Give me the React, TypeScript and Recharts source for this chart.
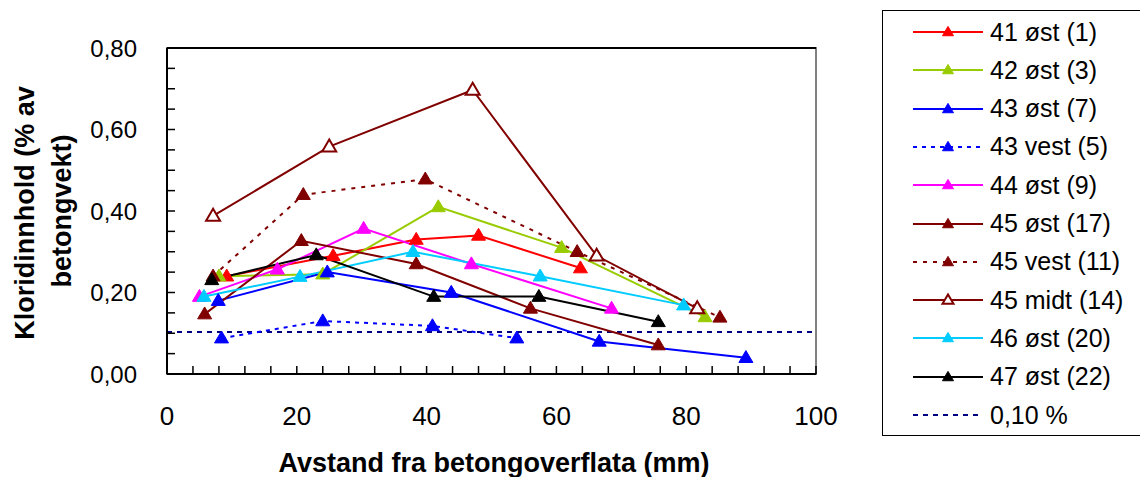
import { LineChart, Line, XAxis, YAxis, ReferenceLine, ReferenceArea, Label } from 'recharts';

type Pt = { x: number; y: number };

// avstand (mm) / kloridinnhold (% av betongvekt)
const ost41: Pt[] = [{ x: 9.2, y: 0.24 }, { x: 25.6, y: 0.29 }, { x: 38.4, y: 0.33 }, { x: 48.0, y: 0.34 }, { x: 63.7, y: 0.26 }];
const ost42: Pt[] = [{ x: 8.0, y: 0.24 }, { x: 24.0, y: 0.245 }, { x: 41.8, y: 0.41 }, { x: 60.8, y: 0.31 }, { x: 82.9, y: 0.14 }];
const ost43: Pt[] = [{ x: 7.9, y: 0.18 }, { x: 24.7, y: 0.25 }, { x: 43.8, y: 0.2 }, { x: 66.6, y: 0.08 }, { x: 89.2, y: 0.04 }];
const vest43: Pt[] = [{ x: 8.4, y: 0.088 }, { x: 24.0, y: 0.13 }, { x: 40.9, y: 0.118 }, { x: 53.9, y: 0.088 }];
const ost44: Pt[] = [{ x: 5.0, y: 0.19 }, { x: 17.0, y: 0.257 }, { x: 30.3, y: 0.357 }, { x: 46.9, y: 0.27 }, { x: 68.5, y: 0.161 }];
const ost45: Pt[] = [{ x: 5.8, y: 0.147 }, { x: 20.7, y: 0.327 }, { x: 38.4, y: 0.27 }, { x: 56.0, y: 0.161 }, { x: 75.7, y: 0.071 }];
const vest45: Pt[] = [{ x: 7.1, y: 0.24 }, { x: 21.0, y: 0.44 }, { x: 39.8, y: 0.478 }, { x: 63.2, y: 0.3 }, { x: 85.2, y: 0.139 }];
const midt45: Pt[] = [{ x: 7.1, y: 0.388 }, { x: 25.0, y: 0.558 }, { x: 47.1, y: 0.697 }, { x: 66.2, y: 0.29 }, { x: 81.7, y: 0.161 }];
const ost46: Pt[] = [{ x: 5.7, y: 0.19 }, { x: 20.5, y: 0.239 }, { x: 37.9, y: 0.3 }, { x: 57.5, y: 0.24 }, { x: 79.6, y: 0.169 }];
const ost47: Pt[] = [{ x: 6.9, y: 0.231 }, { x: 23.0, y: 0.292 }, { x: 41.1, y: 0.19 }, { x: 57.3, y: 0.19 }, { x: 75.7, y: 0.128 }];
const grense = 0.103;

const xTicks = [0, 4, 8, 12, 16, 20, 24, 28, 32, 36, 40, 44, 48, 52, 56, 60, 64, 68, 72, 76, 80, 84, 88, 92, 96, 100];
const yTicks = [0, 0.05, 0.1, 0.15, 0.2, 0.25, 0.3, 0.35, 0.4, 0.45, 0.5, 0.55, 0.6, 0.65, 0.7, 0.75, 0.8];

interface Serie {
  name: string;
  data: Pt[];
  color: string;
  dash?: string;
  hollow?: boolean;
}

const series: Serie[] = [
  { name: '41 øst (1)', data: ost41, color: '#ff0000' },
  { name: '42 øst (3)', data: ost42, color: '#99cc00' },
  { name: '43 øst (7)', data: ost43, color: '#0000ff' },
  { name: '43 vest (5)', data: vest43, color: '#0000ff', dash: '4 5' },
  { name: '44 øst (9)', data: ost44, color: '#ff00ff' },
  { name: '45 øst (17)', data: ost45, color: '#800000' },
  { name: '45 vest (11)', data: vest45, color: '#800000', dash: '4 6' },
  { name: '45 midt (14)', data: midt45, color: '#800000', hollow: true },
  { name: '46 øst (20)', data: ost46, color: '#00ccff' },
  { name: '47 øst (22)', data: ost47, color: '#000000' },
];

const FONT = '"Liberation Sans", Arial, sans-serif';

function Tri({ cx, cy, color, hollow, r = 7 }: { cx: number; cy: number; color: string; hollow?: boolean; r?: number }) {
  const h = r * 1.7;
  const pts = `${cx},${cy - h * 0.6} ${cx - r},${cy + h * 0.4} ${cx + r},${cy + h * 0.4}`;
  return (
    <polygon
      points={pts}
      fill={hollow ? '#fff' : color}
      stroke={color}
      strokeWidth={hollow ? 2 : 1}
    />
  );
}

function YTitle() {
  return (
    <g style={{ fontFamily: FONT, fontWeight: 'bold', fontSize: 27 }} fill="#000">
      <text x={0} y={0} textAnchor="middle" transform="translate(34,213) rotate(-90)">Kloridinnhold (% av</text>
      <text x={0} y={0} textAnchor="middle" transform="translate(71,211) rotate(-90)">betongvekt)</text>
    </g>
  );
}

function XTitle() {
  return (
    <text x={494} y={472} textAnchor="middle" style={{ fontFamily: FONT, fontWeight: 'bold', fontSize: 27 }} fill="#000">
      Avstand fra betongoverflata (mm)
    </text>
  );
}

function LegendBox() {
  const rows = [...series.map(s => ({ ...s, marker: true })), { name: '0,10 %', data: [], color: '#000080', dash: '5 5', hollow: false, marker: false }];
  return (
    <div style={{
      position: 'absolute', left: 882, top: 10, width: 258, height: 426,
      border: '1px solid #000', borderRight: 'none', boxSizing: 'border-box', background: '#fff',
    }}>
      {rows.map((r, i) => (
        <div key={r.name} style={{ position: 'absolute', left: 29, top: 21 + i * 38.3 - 10, height: 20, display: 'flex', alignItems: 'center' }}>
          <svg width={72} height={20} style={{ display: 'block' }}>
            <line x1={1} y1={10} x2={71} y2={10} stroke={r.color} strokeWidth={2} strokeDasharray={r.dash} />
            {r.marker && <Tri cx={36} cy={10} color={r.color} hollow={r.hollow} r={5.5} />}
          </svg>
          <span style={{ fontFamily: FONT, fontSize: 25, marginLeft: 6, whiteSpace: 'nowrap', color: '#000' }}>{r.name}</span>
        </div>
      ))}
    </div>
  );
}

const fmtY = (v: number) => (Math.abs(v * 5 - Math.round(v * 5)) < 1e-6 ? v.toFixed(2).replace('.', ',') : '');
const fmtX = (v: number) => (v % 20 === 0 ? String(v) : '');

export default function App() {
  return (
    <div style={{ position: 'absolute', left: 0, top: 0, width: 1140, height: 477, background: '#fff', fontFamily: FONT }}>
      <LineChart width={880} height={477} margin={{ top: 48, right: 64, left: 107, bottom: 73 }} style={{ fontFamily: FONT }}>
        <XAxis
          type="number"
          dataKey="x"
          domain={[0, 100]}
          ticks={xTicks}
          interval={0}
          tickFormatter={fmtX}
          tickSize={-8}
          tickMargin={41}
          height={30}
          axisLine={{ stroke: '#000', strokeWidth: 2 }}
          tickLine={{ stroke: '#000', strokeWidth: 1.5 }}
          tick={{ fill: '#000', fontSize: 26 }}
        >
          <Label content={XTitle} />
        </XAxis>
        <YAxis
          type="number"
          domain={[0, 0.8]}
          ticks={yTicks}
          interval={0}
          tickFormatter={fmtY}
          tickSize={-8}
          tickMargin={38}
          width={60}
          axisLine={{ stroke: '#000', strokeWidth: 2 }}
          tickLine={{ stroke: '#000', strokeWidth: 1.5 }}
          tick={{ fill: '#000', fontSize: 24 }}
        >
          <Label content={YTitle} />
        </YAxis>
        <ReferenceArea x1={0} x2={100} y1={0} y2={0.8} fill="none" stroke="#808080" strokeWidth={2} />
        <ReferenceLine y={0.8} stroke="#000" strokeWidth={2} />
        <ReferenceLine y={grense} stroke="#000080" strokeWidth={2} strokeDasharray="5 5" />
        {series.map(s => (
          <Line
            key={s.name}
            name={s.name}
            data={s.data}
            dataKey="y"
            type="linear"
            stroke={s.color}
            strokeWidth={2}
            strokeDasharray={s.dash}
            isAnimationActive={false}
            dot={(p: any) => <Tri key={`${s.name}-${p.index}`} cx={p.cx} cy={p.cy} color={s.color} hollow={s.hollow} />}
            activeDot={false}
          />
        ))}
      </LineChart>
      <LegendBox />
    </div>
  );
}
